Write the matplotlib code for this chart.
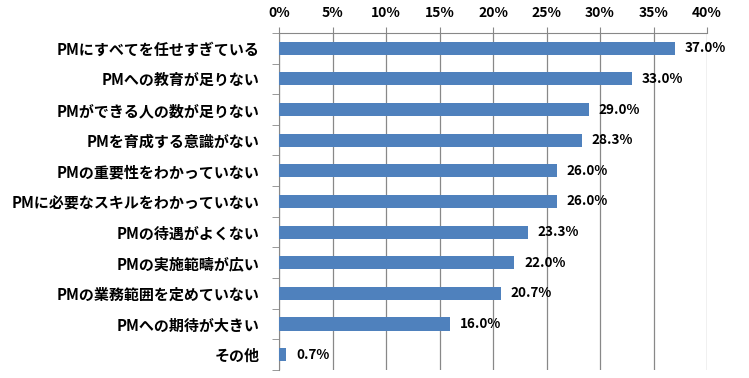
import numpy as np
import matplotlib.pyplot as plt
from matplotlib.ticker import FixedLocator

plt.rcParams['font.family'] = ['Noto Sans CJK JP', 'DejaVu Sans']

# Data
categories = [
    'PMにすべてを任せすぎている',
    'PMへの教育が足りない',
    'PMができる人の数が足りない',
    'PMを育成する意識がない',
    'PMの重要性をわかっていない',
    'PMに必要なスキルをわかっていない',
    'PMの待遇がよくない',
    'PMの実施範疇が広い',
    'PMの業務範囲を定めていない',
    'PMへの期待が大きい',
    'その他',
]
values = [37.0, 33.0, 29.0, 28.3, 26.0, 26.0, 23.3, 22.0, 20.7, 16.0, 0.7]
x_ticks = [0, 5, 10, 15, 20, 25, 30, 35, 40]

fig = plt.figure(figsize=(7.49, 3.78), dpi=100)
ax = fig.add_axes([0.3725, 0.021, 0.5715, 0.892])

y = np.arange(len(categories))
ax.barh(y, values, height=0.43, color='#4F81BD', zorder=3)

ax.set_xlim(0, 40)
ax.set_ylim(len(categories) - 0.5, -0.5)

# x axis on top, Excel-like
ax.xaxis.tick_top()
ax.set_xticks(x_ticks)
ax.set_xticklabels([f'{t}%' for t in x_ticks], fontsize=10, fontweight='bold')
ax.tick_params(axis='x', length=4, color='#888888', pad=5)
ax.grid(axis='x', color='#888888', linewidth=0.9, zorder=0)

ax.set_yticks(y)
ax.set_yticklabels(categories, fontsize=10.8, fontweight='bold')
ax.tick_params(axis='y', which='major', length=0, pad=14)
ax.yaxis.set_minor_locator(FixedLocator(np.arange(-0.5, len(categories), 1)))
ax.tick_params(axis='y', which='minor', length=5, color='#888888')

for side in ['right', 'bottom']:
    ax.spines[side].set_visible(False)
ax.spines['left'].set_color('#888888')
ax.spines['top'].set_color('#888888')

for yi, v in zip(y, values):
    ax.text(v + 0.9, yi, f'{v:.1f}%', va='center', ha='left',
            fontsize=9.7, fontweight='bold', zorder=4)

fig.savefig('out.png', dpi=100)
